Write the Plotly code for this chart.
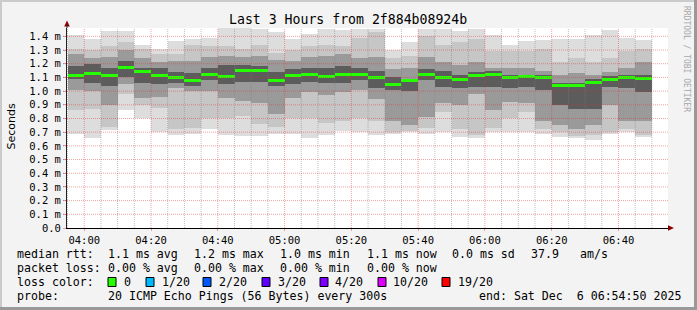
import plotly.graph_objects as go
from datetime import datetime, timedelta

# ---------------- data ----------------
START = "2025-12-06 03:55:00"      # first 5-minute slot
STEP_S = 300
RANGE_START = "2025-12-06 03:54:50"
RANGE_END = "2025-12-06 06:54:50"

# median rtt per slot (ms)
MEDIAN = [1.117, 1.132, 1.117, 1.176, 1.146, 1.117, 1.097, 1.074, 1.122, 1.109,
          1.151, 1.148, 1.081, 1.115, 1.118, 1.107, 1.118, 1.122, 1.099, 1.048,
          1.080, 1.123, 1.099, 1.087, 1.114, 1.123, 1.096, 1.106, 1.096, 1.041,
          1.041, 1.063, 1.087, 1.099, 1.092]
# smoke envelope (ms): outer max / min and inner band edges
SMOKE_MAX = [1.408, 1.379, 1.437, 1.437, 1.335, 1.310, 1.364, 1.384, 1.385, 1.470,
             1.470, 1.457, 1.430, 1.380, 1.420, 1.456, 1.450, 1.456, 1.456, 1.298,
             1.359, 1.456, 1.456, 1.440, 1.456, 1.408, 1.335, 1.366, 1.371, 1.383,
             1.383, 1.408, 1.444, 1.390, 1.376]
SMOKE_HI2 = [1.31, 1.30, 1.33, 1.36, 1.31, 1.27, 1.27, 1.34, 1.33, 1.33,
             1.31, 1.34, 1.28, 1.30, 1.33, 1.34, 1.33, 1.39, 1.43, 1.24,
             1.26, 1.40, 1.34, 1.36, 1.38, 1.29, 1.29, 1.29, 1.31, 1.21,
             1.24, 1.21, 1.24, 1.29, 1.31]
SMOKE_HI3 = [1.27, 1.24, 1.25, 1.30, 1.24, 1.21, 1.22, 1.22, 1.25, 1.26,
             1.25, 1.26, 1.23, 1.22, 1.25, 1.26, 1.27, 1.24, 1.25, 1.16,
             1.17, 1.25, 1.21, 1.19, 1.21, 1.17, 1.17, 1.17, 1.15, 1.12,
             1.13, 1.12, 1.14, 1.17, 1.21]
SMOKE_HI4 = [1.18, 1.20, 1.17, 1.22, 1.17, 1.17, 1.14, 1.13, 1.17, 1.19,
             1.19, 1.18, 1.14, 1.16, 1.17, 1.17, 1.18, 1.17, 1.15, 1.10,
             1.09, 1.16, 1.15, 1.12, 1.14, 1.15, 1.12, 1.12, 1.12, 1.06,
             1.06, 1.09, 1.11, 1.12, 1.12]
SMOKE_LO4 = [1.085, 1.06, 1.04, 1.10, 1.06, 1.05, 1.06, 1.04, 1.08, 1.05,
             1.07, 1.07, 1.04, 1.05, 1.07, 1.06, 1.06, 1.08, 1.02, 1.01,
             1.00, 1.08, 1.03, 1.02, 1.03, 1.03, 1.02, 1.03, 1.01, 0.90,
             0.87, 0.87, 1.03, 1.02, 0.99]
SMOKE_LO3 = [1.007, 1.00, 0.90, 1.05, 0.95, 0.96, 1.02, 1.00, 1.00, 0.95,
             0.93, 0.91, 0.83, 0.95, 0.99, 0.97, 0.99, 1.01, 0.94, 0.78,
             0.75, 0.81, 0.91, 0.90, 0.98, 0.86, 0.92, 0.91, 0.78, 0.75,
             0.72, 0.75, 0.90, 0.78, 0.78]
SMOKE_LO2 = [0.86, 0.87, 0.74, 0.98, 0.90, 0.88, 0.72, 0.73, 0.80, 0.80,
             0.82, 0.76, 0.74, 0.80, 0.80, 0.77, 0.78, 0.80, 0.78, 0.70,
             0.71, 0.73, 0.85, 0.72, 0.68, 0.73, 0.80, 0.85, 0.72, 0.70,
             0.67, 0.68, 0.70, 0.72, 0.68]
SMOKE_MIN = [0.684, 0.657, 0.713, 0.860, 0.800, 0.700, 0.680, 0.690, 0.720, 0.678,
             0.675, 0.673, 0.690, 0.690, 0.656, 0.680, 0.705, 0.703, 0.678, 0.686,
             0.703, 0.690, 0.700, 0.666, 0.661, 0.700, 0.700, 0.700, 0.686, 0.666,
             0.661, 0.642, 0.686, 0.700, 0.666]

X_TICK_LABELS = ["04:00", "04:20", "04:40", "05:00", "05:20", "05:40", "06:00", "06:20", "06:40"]
Y_TICK_VALUES = [0.0, 0.1, 0.2, 0.3, 0.4, 0.5, 0.6, 0.7, 0.8, 0.9, 1.0, 1.1, 1.2, 1.3, 1.4]
Y_TICK_LABELS = ["0.0", "0.1 m", "0.2 m", "0.3 m", "0.4 m", "0.5 m", "0.6 m", "0.7 m",
                 "0.8 m", "0.9 m", "1.0 m", "1.1 m", "1.2 m", "1.3 m", "1.4 m"]

TITLE = "Last 3 Hours from 2f884b08924b"
Y_TITLE = "Seconds"
WATERMARK = "RRDTOOL / TOBI OETIKER"

RTT_ROW = ["median rtt:", "1.1 ms avg", "1.2 ms max", "1.0 ms min", "1.1 ms now", "0.0 ms sd", "37.9", "am/s"]
LOSS_ROW = ["packet loss:", "0.00 % avg", "0.00 % max", "0.00 % min", "0.00 % now"]
LOSS_LABEL = "loss color:"
LOSS_NAMES = ["0", "1/20", "2/20", "3/20", "4/20", "10/20", "19/20"]
LOSS_COLORS = ["#26ff00", "#00b8ff", "#0059ff", "#5e00ff", "#7e00ff", "#dd00ff", "#ff0000"]
PROBE_ROW = ["probe:", "20 ICMP Echo Pings (56 Bytes) every 300s", "end: Sat Dec  6 06:54:50 2025"]

# ---------------- layout / style ----------------
W, H = 697, 310
PL, PR, PT, PB = 67, 668, 28, 228          # plot area in pixels
Y_MAX = 1.461
MONO = "DejaVu Sans Mono"
SANS = "DejaVu Sans"
MED_HALF = 0.011
LAYER_COLORS = ["#dddddd", "#c6c6c6", "#9a9a9a", "#5c5c5c"]
MGRID = "rgba(225,50,50,0.45)"
GRID = "rgba(130,130,130,0.5)"


def px(x):
    return (x - PL) / (PR - PL)


def py(y):
    return (PB - y) / (PB - PT)


t0 = datetime.strptime(START, "%Y-%m-%d %H:%M:%S")
n = len(MEDIAN)
centers = [t0 + timedelta(seconds=STEP_S * i + STEP_S / 2) for i in range(n)]
width_ms = STEP_S * 1000

fig = go.Figure()
layers = [(SMOKE_MIN, SMOKE_MAX), (SMOKE_LO2, SMOKE_HI2), (SMOKE_LO3, SMOKE_HI3), (SMOKE_LO4, SMOKE_HI4)]
for (lo, hi), col in zip(layers, LAYER_COLORS):
    fig.add_trace(go.Bar(x=centers, base=lo, y=[h - l for l, h in zip(lo, hi)],
                         width=width_ms, marker=dict(color=col, line=dict(width=0)),
                         hoverinfo="skip"))
fig.add_trace(go.Bar(x=centers, base=[m - MED_HALF for m in MEDIAN], y=[2 * MED_HALF] * n,
                     width=width_ms, marker=dict(color=LOSS_COLORS[0], line=dict(width=0)),
                     hoverinfo="skip"))

shapes = []
# grid (drawn above the smoke, like rrdtool)
rs = datetime.strptime(RANGE_START, "%Y-%m-%d %H:%M:%S")
re_ = datetime.strptime(RANGE_END, "%Y-%m-%d %H:%M:%S")
t = t0
while t <= re_:
    major = (t.minute % 20 == 0)
    if t > rs:
        shapes.append(dict(type="line", xref="x", yref="paper", x0=t, x1=t, y0=0, y1=1,
                           layer="above", line=dict(color=MGRID if major else GRID, width=1, dash="1px,1px")))
    t += timedelta(seconds=STEP_S)
for v in Y_TICK_VALUES[1:]:
    shapes.append(dict(type="line", xref="paper", yref="y", x0=px(63), x1=1, y0=v, y1=v,
                       layer="above", line=dict(color=MGRID, width=1, dash="1px,1px")))
# arrows
ARROW = "#8b0000"
shapes.append(dict(type="path", xref="paper", yref="paper",
                   path=f"M {px(67)} {py(20.5)} L {px(64.2)} {py(26.5)} L {px(69.8)} {py(26.5)} Z",
                   fillcolor=ARROW, line=dict(width=0), layer="above"))
shapes.append(dict(type="line", xref="paper", yref="paper", x0=0, x1=0, y0=1, y1=py(25),
                   line=dict(color="#222222", width=1)))
shapes.append(dict(type="path", xref="paper", yref="paper",
                   path=f"M {px(674)} {py(228)} L {px(668)} {py(225.2)} L {px(668)} {py(230.8)} Z",
                   fillcolor=ARROW, line=dict(width=0), layer="above"))
# 3D border
shapes.append(dict(type="rect", xref="paper", yref="paper", x0=px(0), x1=px(W), y0=py(0), y1=py(2),
                   fillcolor="#cbcbcb", line=dict(width=0)))
shapes.append(dict(type="rect", xref="paper", yref="paper", x0=px(0), x1=px(2), y0=py(0), y1=py(H),
                   fillcolor="#cbcbcb", line=dict(width=0)))
shapes.append(dict(type="rect", xref="paper", yref="paper", x0=px(W - 3), x1=px(W), y0=py(0), y1=py(H),
                   fillcolor="#999999", line=dict(width=0)))
shapes.append(dict(type="rect", xref="paper", yref="paper", x0=px(0), x1=px(W), y0=py(H - 3), y1=py(H),
                   fillcolor="#999999", line=dict(width=0)))

annotations = []


def text(s, x, y, size=11.6, family=MONO, color="#000000", anchor="left", angle=0):
    annotations.append(dict(text=s.replace(" ", "\u00a0"), x=px(x), y=py(y), xref="paper", yref="paper",
                            xanchor=anchor, yanchor="middle", showarrow=False, borderpad=0,
                            textangle=angle, font=dict(family=family, size=size, color=color)))


text(TITLE, 347.5, 19.5, size=13.2, anchor="center")
text(Y_TITLE, 10.5, 127, size=11, family=SANS, anchor="center", angle=-90)
text(WATERMARK, 687, 59, size=8, color="#a8a8a8", anchor="center", angle=90)

ROW_Y = [254.3, 268, 282, 296]
for s, x in zip(RTT_ROW, [16, 107, 193, 279, 366, 451, 530, 579]):
    text(s, x, ROW_Y[0])
for s, x in zip(LOSS_ROW, [16, 107, 193, 279, 366]):
    text(s, x, ROW_Y[1])
text(LOSS_LABEL, 16, ROW_Y[2])
box_x = [108, 146, 203, 262, 320, 378, 442]
lab_x = [123, 161, 218, 277, 334, 392, 457]
for name, col, bx, lx in zip(LOSS_NAMES, LOSS_COLORS, box_x, lab_x):
    shapes.append(dict(type="rect", xref="paper", yref="paper", x0=px(bx), x1=px(bx + 8),
                       y0=py(ROW_Y[2] - 4.5), y1=py(ROW_Y[2] + 4.5), fillcolor=col,
                       line=dict(color="#000000", width=1)))
    text(name, lx, ROW_Y[2])
for s, x in zip(PROBE_ROW, [16, 107, 478]):
    text(s, x, ROW_Y[3])

fig.update_layout(
    width=W, height=H, margin=dict(l=PL, r=W - PR, t=PT, b=H - PB, pad=0),
    paper_bgcolor="#f3f3f3", plot_bgcolor="#ffffff",
    barmode="overlay", bargap=0, showlegend=False,
    shapes=shapes, annotations=annotations,
    xaxis=dict(type="date", range=[RANGE_START, RANGE_END],
               tickvals=["2025-12-06 " + s + ":00" for s in X_TICK_LABELS], ticktext=X_TICK_LABELS,
               tickfont=dict(family=MONO, size=10.5, color="#000000"),
               showgrid=False, zeroline=False, showline=True, linecolor="#000000", linewidth=1,
               ticks="outside", ticklen=2, tickcolor=MGRID, fixedrange=True),
    yaxis=dict(range=[0, Y_MAX], tickvals=Y_TICK_VALUES, ticktext=Y_TICK_LABELS,
               tickfont=dict(family=MONO, size=10.5, color="#000000"),
               showgrid=False, zeroline=False, showline=True, linecolor="#222222", linewidth=1,
               ticks="outside", ticklen=3, tickcolor=MGRID, fixedrange=True),
)

fig.write_html("out.html")
